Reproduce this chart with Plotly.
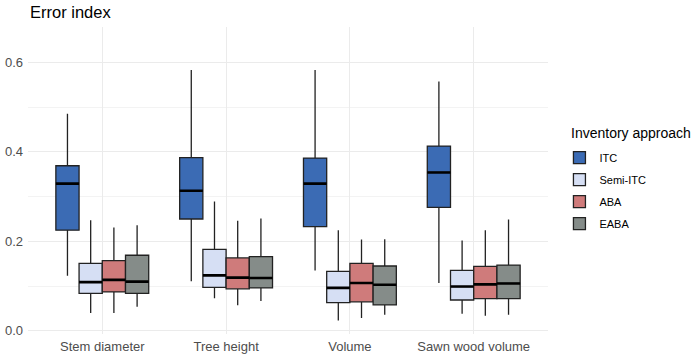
import plotly.graph_objects as go

categories = ["Stem diameter", "Tree height", "Volume", "Sawn wood volume"]
approaches = ["ITC", "Semi-ITC", "ABA", "EABA"]
colors = ["#3B6BB4", "#D6DFF4", "#CF7B7B", "#858C89"]

# per approach: values for each category
lower = {
    "ITC":      [0.123, 0.111, 0.135, 0.107],
    "Semi-ITC": [0.040, 0.073, 0.023, 0.038],
    "ABA":      [0.040, 0.057, 0.029, 0.034],
    "EABA":     [0.054, 0.067, 0.036, 0.036],
}
q1 = {
    "ITC":      [0.225, 0.250, 0.233, 0.276],
    "Semi-ITC": [0.084, 0.097, 0.063, 0.069],
    "ABA":      [0.087, 0.094, 0.065, 0.072],
    "EABA":     [0.084, 0.096, 0.058, 0.072],
}
median = {
    "ITC":      [0.329, 0.313, 0.329, 0.354],
    "Semi-ITC": [0.109, 0.124, 0.096, 0.099],
    "ABA":      [0.114, 0.119, 0.107, 0.104],
    "EABA":     [0.110, 0.118, 0.103, 0.106],
}
q3 = {
    "ITC":      [0.369, 0.387, 0.386, 0.413],
    "Semi-ITC": [0.151, 0.182, 0.133, 0.135],
    "ABA":      [0.157, 0.163, 0.151, 0.144],
    "EABA":     [0.169, 0.166, 0.145, 0.147],
}
upper = {
    "ITC":      [0.485, 0.583, 0.583, 0.557],
    "Semi-ITC": [0.247, 0.289, 0.225, 0.202],
    "ABA":      [0.231, 0.246, 0.204, 0.225],
    "EABA":     [0.236, 0.251, 0.205, 0.249],
}

fig = go.Figure()
for name, col in zip(approaches, colors):
    fig.add_trace(go.Box(
        name=name, x=categories, q1=q1[name], median=median[name], q3=q3[name],
        lowerfence=lower[name], upperfence=upper[name],
        fillcolor=col, line=dict(color="#222222", width=1.3),
        whiskerwidth=0, offsetgroup=name, legendgroup=name,
        hoverinfo="skip",
    ))
for name in approaches:
    fig.add_trace(go.Box(
        name=name, x=categories, q1=median[name], median=median[name], q3=median[name],
        lowerfence=median[name], upperfence=median[name],
        fillcolor="rgba(0,0,0,0)", line=dict(color="#000000", width=2.6),
        whiskerwidth=0, offsetgroup=name, legendgroup=name, showlegend=False,
        hoverinfo="skip",
    ))

fig.update_layout(
    width=700, height=357,
    margin=dict(l=28, r=152, t=27, b=23),
    paper_bgcolor="white", plot_bgcolor="white",
    boxmode="group", boxgap=0.25, boxgroupgap=0,
    font=dict(family="Liberation Sans, Arial, sans-serif", color="#4D4D4D", size=13),
    legend=dict(x=1.022, xanchor="left", y=0.467, yanchor="middle",
                font=dict(size=11, color="#000000"), tracegroupgap=3,
                itemwidth=30),
    annotations=[
        dict(text="Error index", xref="paper", yref="paper",
             x=0, y=1.049, xanchor="left", yanchor="middle",
             showarrow=False, font=dict(size=16.5, color="#000000")),
        dict(text="Inventory approach", xref="paper", yref="paper",
             x=1.04, y=0.655, xanchor="left", yanchor="middle",
             showarrow=False, font=dict(size=14, color="#000000")),
    ],
    showlegend=True,
)
fig.update_xaxes(
    type="category", range=[-0.6, 3.6], showgrid=True, gridcolor="#EBEBEB", gridwidth=1,
    zeroline=False, showline=False, ticks="", automargin=False, ticklabelstandoff=3,
    tickfont=dict(size=13, color="#4D4D4D"),
)
fig.update_yaxes(
    range=[-0.007, 0.679], tick0=0, dtick=0.2, tickformat=".1f",
    showgrid=True, gridcolor="#EBEBEB", gridwidth=1.2,
    minor=dict(tick0=0.1, dtick=0.2, showgrid=True, gridcolor="#F3F3F3", gridwidth=0.8),
    zeroline=False, showline=False, ticks="", automargin=False, ticklabelstandoff=4,
    tickfont=dict(size=13, color="#4D4D4D"),
)

fig.write_html("out.html", config={"displayModeBar": False},
               post_script="document.body.style.margin='0';")
